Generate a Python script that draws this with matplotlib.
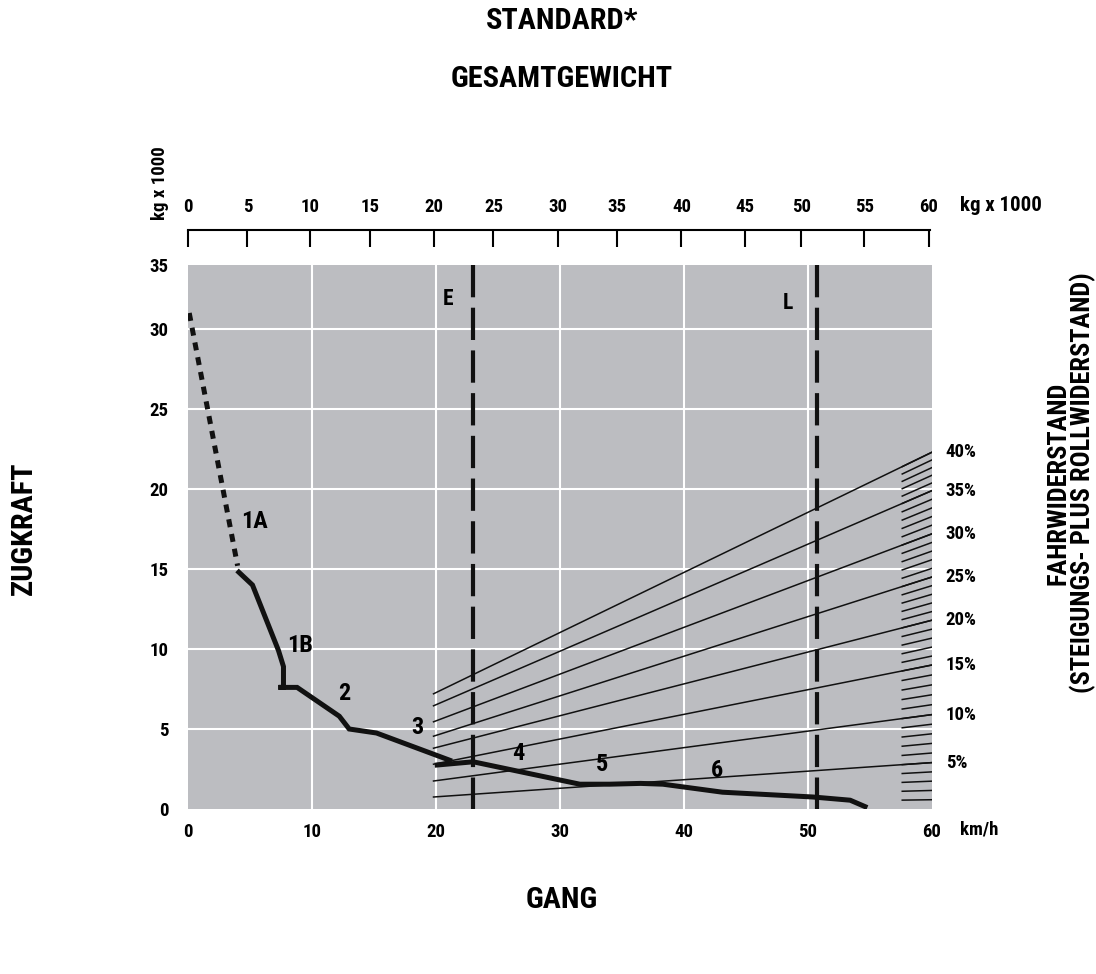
import numpy as np
from matplotlib import pyplot as plt
from matplotlib import font_manager


# Tractive force curve (speed in km/h, force in kg x 1000)
gear_1a_speed = [0.1, 4.0]
gear_1a_force = [31.0, 15.2]
gear_1b_3_speed = [4.1, 5.2, 7.3, 7.7, 7.7, 7.3, 8.8, 12.2, 13.0, 15.2, 21.1]
gear_1b_3_force = [14.8, 14.0, 9.9, 8.9, 7.6, 7.6, 7.6, 5.8, 5.0, 4.75, 3.05]
gear_4_6_speed = [20.1, 23.0, 31.6, 34.0, 36.5, 38.3, 40.7, 43.1, 50.4, 53.4, 54.6]
gear_4_6_force = [2.75, 2.95, 1.55, 1.55, 1.6, 1.55, 1.3, 1.05, 0.75, 0.55, 0.15]

gear_labels = ['1A', '1B', '2', '3', '4', '5', '6']
gear_label_x = [5.4, 9.0, 12.6, 18.5, 26.6, 33.4, 42.7]
gear_label_y = [18.0, 10.25, 7.2, 5.1, 3.5, 2.8, 2.4]

# Empty / loaded weight markers
marker_names = ['E', 'L']
marker_speed = [23.0, 50.7]
marker_label_x = [21.0, 48.4]
marker_label_y = [31.9, 31.6]

# Driving resistance lines (grade plus rolling resistance)
grades = [5, 10, 15, 20, 25, 30, 35, 40]
res_x0, res_x1 = 19.8, 60.0
res_start = [0.75, 1.75, 2.8, 3.8, 4.55, 5.45, 6.45, 7.2]
res_end = [2.9, 5.9, 9.0, 11.8, 14.5, 17.2, 19.9, 22.3]

speed_ticks = [0, 10, 20, 30, 40, 50, 60]
force_ticks = [0, 5, 10, 15, 20, 25, 30]
weight_labels = [0, 5, 10, 15, 20, 25, 30, 35, 40, 45, 50, 55, 60]
weight_tick_pos = [0, 4.8, 9.9, 14.7, 19.9, 24.7, 29.9, 34.7, 39.9, 45.0, 49.6, 54.7, 59.9]

W, H = 1096, 974
GRAY = '#bcbdc1'
INK = '#111111'


def pick_font():
	names = {f.name for f in font_manager.fontManager.ttflist}
	for n in ['Roboto Condensed', 'Liberation Sans Narrow', 'DejaVu Sans Condensed']:
		if n in names:
			return n, 'normal'
	return 'DejaVu Sans', 'condensed'


def fx(px):
	return px / W


def fy(py):
	return 1 - py / H


def main():
	family, stretch = pick_font()
	plt.rcParams['font.family'] = [family, 'DejaVu Sans']
	plt.rcParams['font.weight'] = 'heavy'
	plt.rcParams['font.stretch'] = stretch

	fig = plt.figure(figsize=(W / 100, H / 100), dpi=100)
	ax = fig.add_axes([fx(188), fy(809), fx(932) - fx(188), fy(265) - fy(809)])
	ax.set_facecolor(GRAY)
	ax.set_xlim(0, 60)
	ax.set_ylim(0, 34)
	for s in ax.spines.values():
		s.set_visible(False)

	for v in speed_ticks[1:-1]:
		ax.axvline(v, color='white', lw=1.5, zorder=1)
	for v in force_ticks[1:]:
		ax.axhline(v, color='white', lw=1.5, zorder=1)

	ax.set_xticks(speed_ticks)
	ax.set_yticks(force_ticks + [34])
	ax.set_yticklabels([str(v) for v in force_ticks] + ['35'])
	ax.tick_params(axis='x', length=0, pad=10, labelsize=13.5)
	ax.tick_params(axis='y', length=0, pad=14, labelsize=13.5)

	# resistance fan
	for g, y0, y1 in zip(grades, res_start, res_end):
		ax.plot([res_x0, res_x1], [y0, y1], color=INK, lw=1.1, zorder=2)
		ax.text(61.1, y1, '{}%'.format(g), ha='left', va='center', fontsize=13.5, clip_on=False)

	# 1% scale ticks at the right edge
	fine = np.arange(1, 41)
	end_fine = np.interp(fine, [0] + grades, [0] + res_end)
	start_fine = np.interp(fine, [0] + grades, [0] + res_start)
	slope = (end_fine - start_fine) / (res_x1 - res_x0)
	for y1, k in zip(end_fine, slope):
		ax.plot([57.6, 60], [y1 - k * 2.4, y1], color=INK, lw=1.1, zorder=2)

	# E / L markers
	for name, x, lx, ly in zip(marker_names, marker_speed, marker_label_x, marker_label_y):
		ax.plot([x, x], [34, 0], color=INK, lw=3, dashes=(7.75, 2.5), zorder=3)
		ax.text(lx, ly, name, ha='center', va='center', fontsize=15.5)

	# tractive force
	ax.plot(gear_1a_speed, gear_1a_force, color=INK, lw=3.6, dashes=(1.6, 1.4), zorder=4)
	ax.plot(gear_1b_3_speed, gear_1b_3_force, color=INK, lw=3.6, zorder=4, solid_joinstyle='miter')
	ax.plot(gear_4_6_speed, gear_4_6_force, color=INK, lw=3.6, zorder=4)
	for lab, x, y in zip(gear_labels, gear_label_x, gear_label_y):
		ax.text(x, y, lab, ha='center', va='center', fontsize=17.5, zorder=5)

	# top weight scale
	axt = fig.add_axes([fx(188), fy(247), fx(930) - fx(188), fy(230) - fy(247)])
	axt.set_xlim(0, 60)
	axt.patch.set_visible(False)
	for k, s in axt.spines.items():
		s.set_visible(k == 'top')
	axt.spines['top'].set_linewidth(1.5)
	axt.set_yticks([])
	axt.set_xticks(weight_tick_pos)
	axt.set_xticklabels([str(v) for v in weight_labels])
	axt.tick_params(axis='x', top=True, bottom=False, labeltop=True, labelbottom=False,
					direction='in', length=12.2, width=1.5, pad=10, labelsize=13.5)

	fig.text(fx(960), fy(211), 'kg x 1000', ha='left', va='baseline', fontsize=15)
	fig.text(fx(160), fy(183), 'kg x 1000', ha='center', va='center', rotation=90, fontsize=13.5)
	fig.text(fx(960), fy(830), 'km/h', ha='left', va='center', fontsize=13.5)

	fig.text(fx(562), fy(21), 'STANDARD*', ha='center', va='center', fontsize=21.8)
	fig.text(fx(562), fy(79), 'GESAMTGEWICHT', ha='center', va='center', fontsize=21.8)
	fig.text(fx(562), fy(900), 'GANG', ha='center', va='center', fontsize=21.8)
	fig.text(fx(24), fy(528), 'ZUGKRAFT', ha='center', va='center', rotation=90, fontsize=21.8)
	fig.text(fx(1071), fy(483), 'FAHRWIDERSTAND\n(STEIGUNGS- PLUS ROLLWIDERSTAND)',
			 ha='center', va='center', rotation=90, multialignment='center',
			 linespacing=0.95, fontsize=19)

	fig.savefig('out.png', dpi=100)


if __name__ == '__main__':
	main()
